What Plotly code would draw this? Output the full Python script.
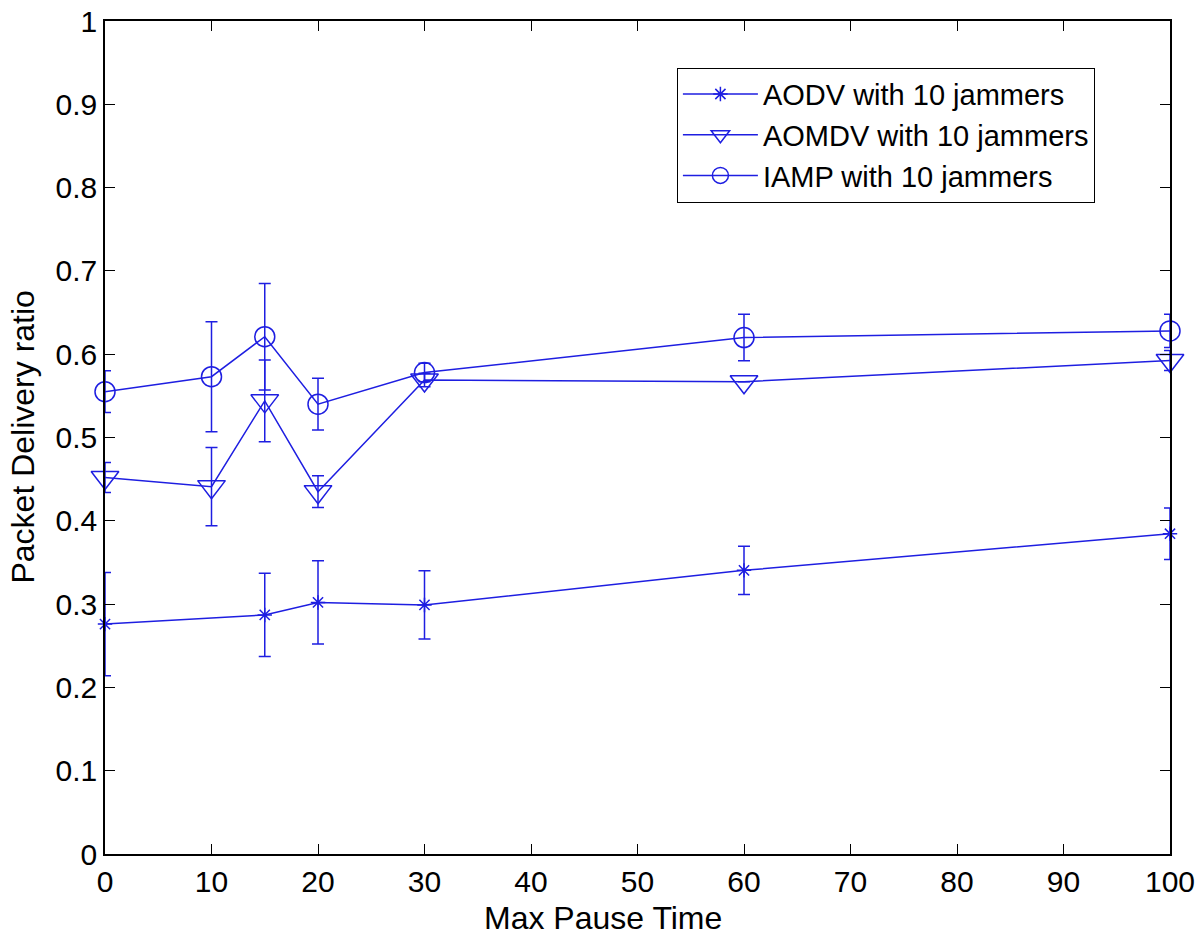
import plotly.graph_objects as go

# ---- data ----
aodv_x = [0, 15, 20, 30, 60, 100]
aodv_y = [0.276, 0.287, 0.302, 0.299, 0.3405, 0.3845]
aodv_err = [0.062, 0.050, 0.050, 0.041, 0.029, 0.031]

aomdv_x = [0, 10, 15, 20, 30, 60, 100]
aomdv_y = [0.452, 0.441, 0.544, 0.435, 0.569, 0.567, 0.5925]
aomdv_err = [0.018, 0.047, 0.049, 0.019, 0.008, 0.0, 0.012]

iamp_x = [0, 10, 15, 20, 30, 60, 100]
iamp_y = [0.555, 0.573, 0.621, 0.540, 0.578, 0.620, 0.628]
iamp_err = [0.025, 0.066, 0.064, 0.031, 0.011, 0.028, 0.020]

names = ["AODV with 10 jammers", "AOMDV with 10 jammers", "IAMP with 10 jammers"]
x_ticks = [0, 10, 20, 30, 40, 50, 60, 70, 80, 90, 100]
y_ticks = [0, 0.1, 0.2, 0.3, 0.4, 0.5, 0.6, 0.7, 0.8, 0.9, 1]
x_title = "Max Pause Time"
y_title = "Packet Delivery ratio"

BLUE = "rgb(30,30,225)"
FONT = "Liberation Sans, Arial, sans-serif"

fig = go.Figure()

def add(xs, ys, errs, name, symbol, size):
    fig.add_trace(go.Scatter(
        x=xs, y=ys, name=name, mode="lines+markers",
        line=dict(color=BLUE, width=1.5),
        marker=dict(symbol=symbol, size=size, color=BLUE, line=dict(width=1.5, color=BLUE)),
        error_y=dict(type="data", array=errs, visible=True, color=BLUE, thickness=1.5, width=6),
        cliponaxis=False,
    ))

add(aodv_x, aodv_y, aodv_err, names[0], "asterisk-open", 12)
add(aomdv_x, aomdv_y, aomdv_err, names[1], "triangle-down-open", 24)
add(iamp_x, iamp_y, iamp_err, names[2], "circle-open", 20)

axis_common = dict(
    showline=True, linecolor="black", linewidth=1.5, mirror="ticks",
    ticks="inside", ticklen=10, tickwidth=1, tickcolor="black",
    showgrid=False, zeroline=False, automargin=False, ticklabeloverflow="allow",
    tickfont=dict(family=FONT, size=30, color="black"),
)

fig.update_layout(
    width=1200, height=942,
    paper_bgcolor="white", plot_bgcolor="white",
    margin=dict(l=105, r=30, t=21, b=88),
    font=dict(family=FONT, color="black"),
    xaxis=dict(range=[0, 100], tickvals=x_ticks, **axis_common),
    yaxis=dict(range=[0, 1], tickvals=y_ticks, ticktext=[f"{v:g}" for v in y_ticks],
               **axis_common),
    legend=dict(x=0.537, y=0.944, xanchor="left", yanchor="top",
                bordercolor="black", borderwidth=1, bgcolor="white",
                font=dict(family=FONT, size=29, color="black"),
                itemwidth=75, tracegroupgap=0),
    annotations=[
        dict(text=x_title, xref="paper", yref="paper", x=0.4676, y=-0.0772,
             xanchor="center", yanchor="middle", showarrow=False,
             font=dict(family=FONT, size=32, color="black")),
        dict(text=y_title, xref="paper", yref="paper", x=-0.0779, y=0.5,
             xanchor="center", yanchor="middle", showarrow=False, textangle=-90,
             font=dict(family=FONT, size=32, color="black")),
    ],
    showlegend=True,
)

fig.write_html("out.html",
               config={"displayModeBar": False},
               post_script="document.body.style.margin='0';document.body.style.padding='0';")
